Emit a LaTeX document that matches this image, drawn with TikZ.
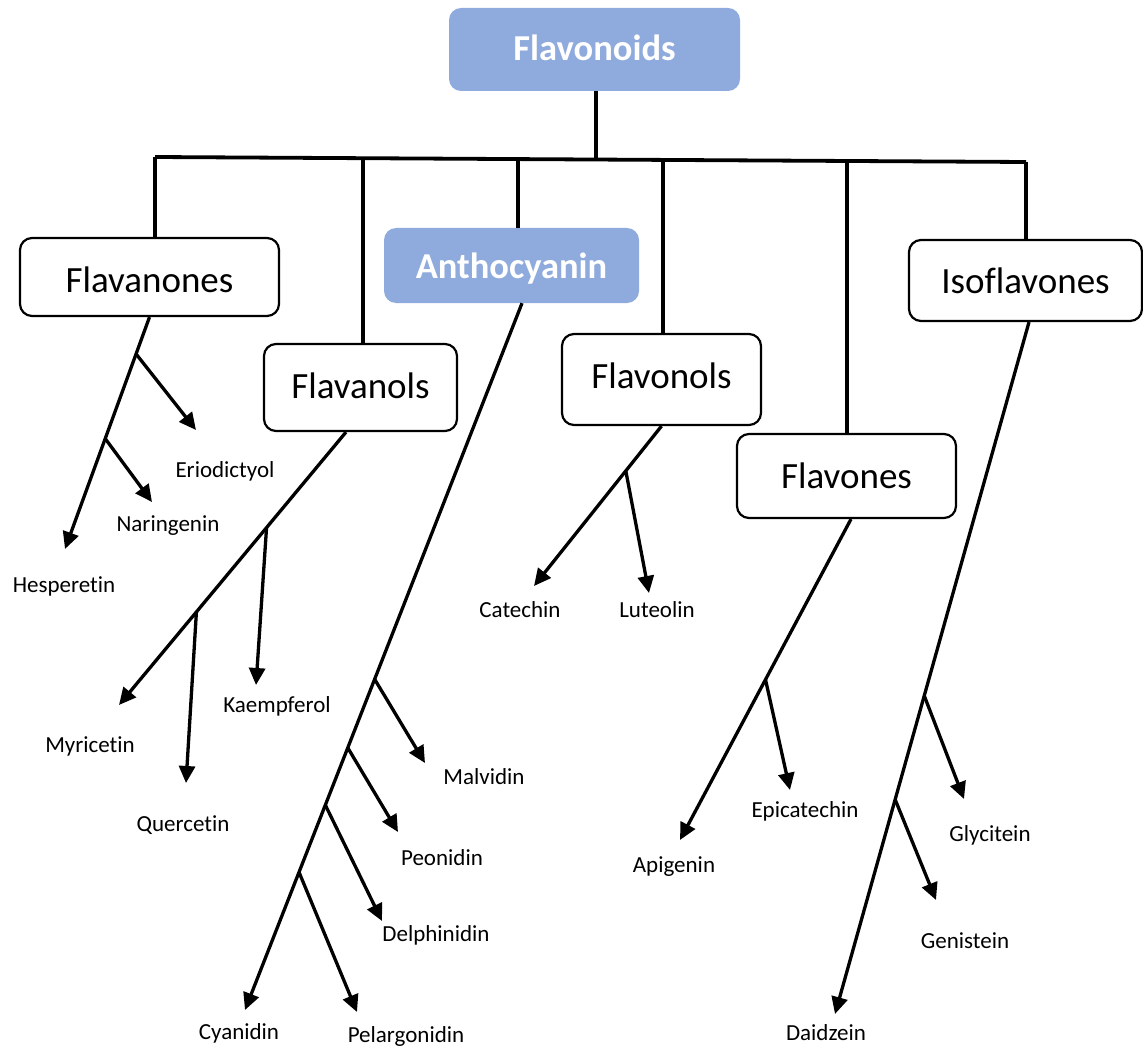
\documentclass[tikz,border=0pt]{standalone}
\usepackage{fontspec}
\setmainfont{Carlito}[Ligatures={NoCommon}]
\usetikzlibrary{arrows.meta,calc}
\definecolor{boxblue}{HTML}{8FAADC}
\begin{document}
\begin{tikzpicture}[x=1pt,y=-1pt,
  box/.style={draw, line width=2.2pt, rounded corners=12pt, fill=white, inner sep=0pt, font=\fontsize{37}{40}\selectfont},
  bluebox/.style={fill=boxblue, rounded corners=12pt, inner sep=0pt, text=white, font=\bfseries\fontsize{36.5}{40}\selectfont},
  lbl/.style={inner sep=0pt, font=\fontsize{23}{26}\selectfont},
  conn/.style={line width=3.3pt},
  arr/.style={conn, -{Triangle[length=17pt,width=16pt]}}]
\useasboundingbox (0,0) rectangle (1143,1051);

% boxes
\node[bluebox, minimum width=291pt, minimum height=83pt, text depth=4pt] (flavonoids) at (594.5,49.5) {Flavonoids};
\node[box, minimum width=259pt, minimum height=78pt, text height=31pt] (fnones) at (149.5,277) {Flavanones};
\node[bluebox, minimum width=255pt, minimum height=75pt, text depth=0pt] (antho) at (511.5,265.5) {Anthocyanin};
\node[box, minimum width=193pt, minimum height=87pt, text depth=4pt] (fnols) at (360.5,387.5) {Flavanols};
\node[box, minimum width=199pt, minimum height=91pt, text depth=8pt] (fvnols) at (661.5,379.5) {Flavonols};
\node[box, minimum width=219pt, minimum height=84pt] (fvones) at (846.5,476) {Flavones};
\node[box, minimum width=233pt, minimum height=81pt] (iso) at (1025.5,280.5) {Isoflavones};

% bus
\coordinate (b1) at (155,157);
\coordinate (b2) at (363,158.2);
\coordinate (b3) at (518,159.1);
\coordinate (b0) at (596,159.5);
\coordinate (b4) at (663,159.9);
\coordinate (b5) at (847,161);
\coordinate (b6) at (1026,162);
\draw[conn, line width=3.8pt] (b1) -- (b6);
\draw[conn] (flavonoids.south -| b0) -- (b0);
\draw[conn] (b1) -- (b1 |- fnones.north);
\draw[conn] (b2) -- (b2 |- fnols.north);
\draw[conn] (b3) -- (b3 |- antho.north);
\draw[conn] (b4) -- (b4 |- fvnols.north);
\draw[conn] (b5) -- (b5 |- fvones.north);
\draw[conn] (b6) -- (b6 |- iso.north);

% labels
\node[lbl] (eri) at (225,471) {Eriodictyol};
\node[lbl] (nar) at (168,526) {Naringenin};
\node[lbl] (hes) at (64,586) {Hesperetin};
\node[lbl] (kae) at (277,706) {Kaempferol};
\node[lbl] (myr) at (90,746) {Myricetin};
\node[lbl] (que) at (183,825) {Quercetin};
\node[lbl] (mal) at (484,777) {Malvidin};
\node[lbl] (peo) at (442,858) {Peonidin};
\node[lbl] (del) at (436,935) {Delphinidin};
\node[lbl] (cya) at (239,1033) {Cyanidin};
\node[lbl] (pel) at (406,1036) {Pelargonidin};
\node[lbl] (cat) at (520,610) {Catechin};
\node[lbl] (lut) at (657,610) {Luteolin};
\node[lbl] (epi) at (805,811) {Epicatechin};
\node[lbl] (api) at (674,867) {Apigenin};
\node[lbl] (gly) at (990,835) {Glycitein};
\node[lbl] (gen) at (965,941) {Genistein};
\node[lbl] (dai) at (826,1033) {Daidzein};

% Flavanones
\coordinate (s1) at (fnones.south);
\coordinate (hesT) at (65,549);
\coordinate (eriT) at (196,430);
\coordinate (narT) at (152,502);
\draw[arr] (s1) -- (hesT);
\draw[arr] ($(s1)!0.159!(hesT)$) -- (eriT);
\draw[arr] ($(s1)!0.524!(hesT)$) -- (narT);

% Flavanols
\coordinate (s2) at ([xshift=-14.5pt]fnols.south);
\coordinate (myrT) at (119,705);
\coordinate (kaeT) at (256,685);
\coordinate (queT) at (186,783);
\draw[arr] (s2) -- (myrT);
\draw[arr] ($(s2)!0.35!(myrT)$) -- (kaeT);
\draw[arr] ($(s2)!0.659!(myrT)$) -- (queT);

% Anthocyanin
\coordinate (s3) at ([xshift=10.5pt]antho.south);
\coordinate (cyaT) at (245,1010);
\coordinate (malT) at (425,763);
\coordinate (peoT) at (398,832);
\coordinate (delT) at (382,921);
\coordinate (pelT) at (357,1012);
\draw[arr] (s3) -- (cyaT);
\draw[arr] ($(s3)!0.532!(cyaT)$) -- (malT);
\draw[arr] ($(s3)!0.629!(cyaT)$) -- (peoT);
\draw[arr] ($(s3)!0.710!(cyaT)$) -- (delT);
\draw[arr] ($(s3)!0.805!(cyaT)$) -- (pelT);

% Flavonols
\coordinate (s4) at (fvnols.south);
\coordinate (catT) at (534,586);
\coordinate (lutT) at (649,593);
\draw[arr] (s4) -- (catT);
\draw[arr] ($(s4)!0.28!(catT)$) -- (lutT);

% Flavones
\coordinate (s5) at ([xshift=4.5pt]fvones.south);
\coordinate (apiT) at (680,840);
\coordinate (epiT) at (790,790);
\draw[arr] (s5) -- (apiT);
\draw[arr] ($(s5)!0.5!(apiT)$) -- (epiT);

% Isoflavones
\coordinate (s6) at ([xshift=3.5pt]iso.south);
\coordinate (daiT) at (835,1014);
\coordinate (glyT) at (964,799);
\coordinate (genT) at (936,900);
\draw[arr] (s6) -- (daiT);
\draw[arr] ($(s6)!0.54!(daiT)$) -- (glyT);
\draw[arr] ($(s6)!0.69!(daiT)$) -- (genT);
\end{tikzpicture}
\end{document}
